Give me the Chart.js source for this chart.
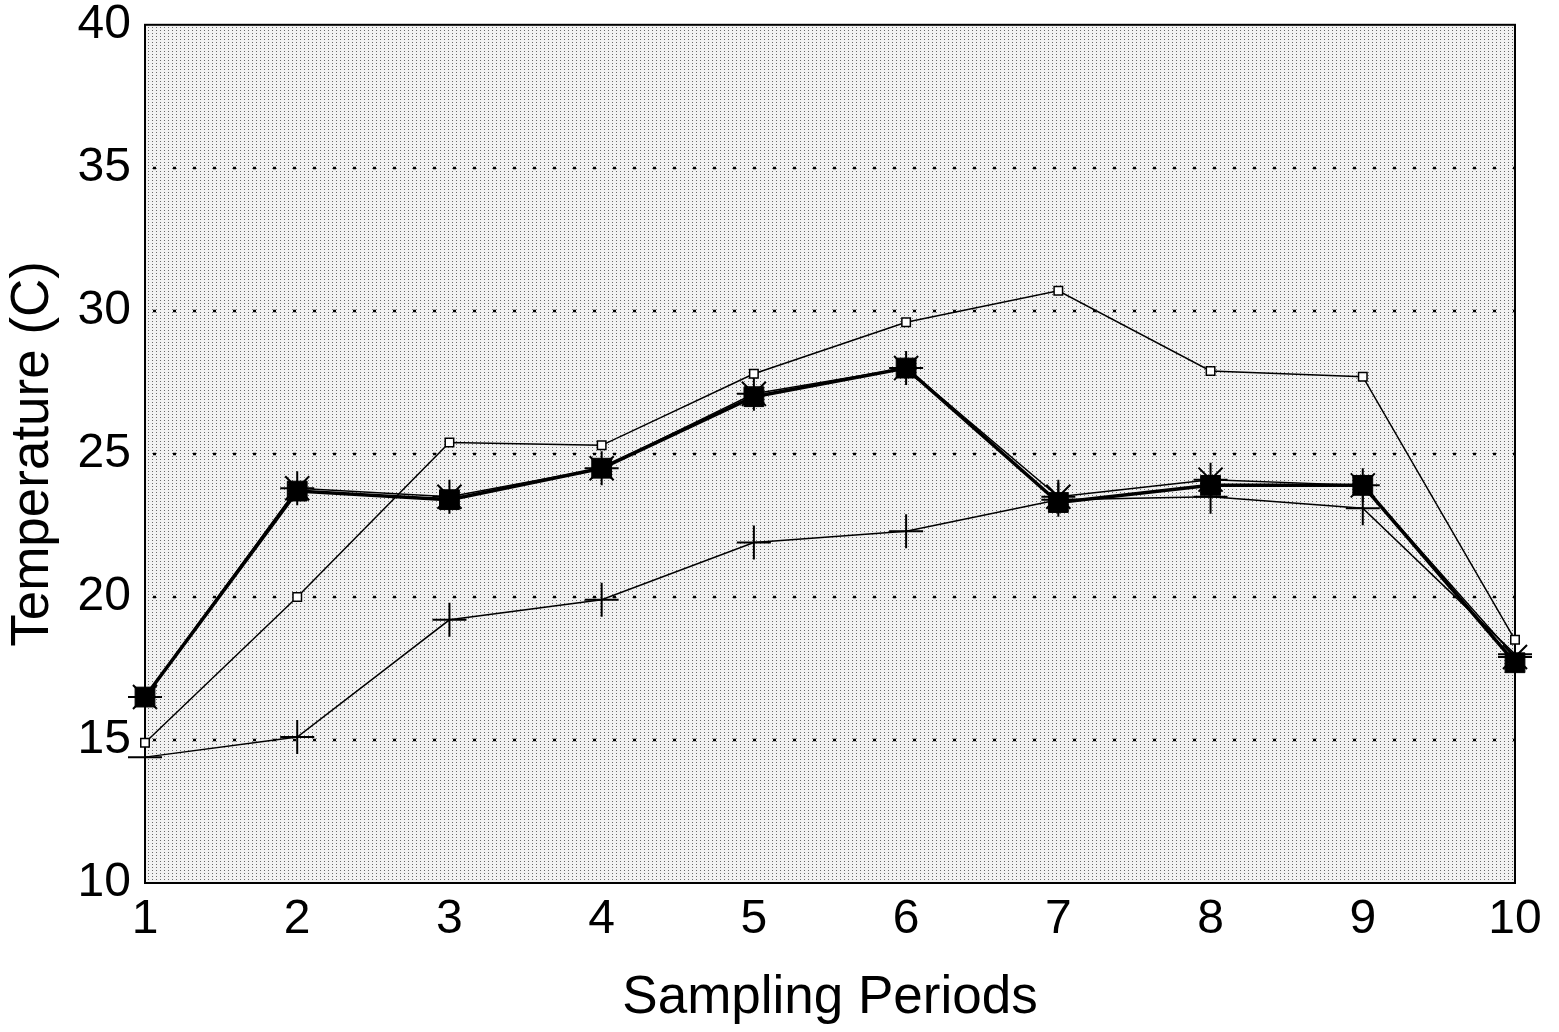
<!DOCTYPE html>
<html>
<head>
<meta charset="utf-8">
<script src="https://cdn.jsdelivr.net/npm/chart.js@4/dist/chart.umd.min.js"></script>
<style>
html,body{margin:0;padding:0;background:#fff;}
#wrap{width:1559px;height:1032px;position:relative;}
</style>
</head>
<body>
<div id="wrap"><canvas id="c" width="1559" height="1032"></canvas></div>
<script>
// ---- data ----
const periods = ['1','2','3','4','5','6','7','8','9','10'];
const openSquares   = [14.9, 20.0, 25.4, 25.3, 27.8, 29.6, 30.7, 27.9, 27.7, 18.5];
const filledSquares = [16.5, 23.7, 23.4, 24.5, 27.0, 28.0, 23.3, 23.9, 23.9, 17.7];
const asterisks     = [16.5, 23.8, 23.5, 24.5, 27.1, 28.0, 23.5, 24.1, 23.9, 17.9];
const crosses       = [14.4, 15.1, 19.2, 19.9, 21.9, 22.3, 23.4, 23.5, 23.1, 18.0];
const yTicks = [10, 15, 20, 25, 30, 35, 40];
const dottedLevels = [15, 20, 25, 30, 35];

// stipple pattern
function makePattern(ctx){
  const p = document.createElement('canvas');
  p.width = 4; p.height = 3;
  const pc = p.getContext('2d');
  pc.fillStyle = '#f2f2f2';
  pc.fillRect(0,0,4,3);
  pc.fillStyle = '#6a6a6a';
  pc.fillRect(0,0,1,1);
  return ctx.createPattern(p,'repeat');
}

const framePlugin = {
  id: 'frame',
  beforeDatasetsDraw(chart){
    const {ctx, chartArea:a, scales} = chart;
    ctx.save();
    ctx.fillStyle = makePattern(ctx);
    ctx.fillRect(a.left, a.top, a.right - a.left, a.bottom - a.top);
    ctx.strokeStyle = '#000';
    ctx.lineWidth = 2.5;
    ctx.setLineDash([3, 17]);
    dottedLevels.forEach(v => {
      const y = Math.round(scales.y.getPixelForValue(v));
      ctx.beginPath();
      ctx.moveTo(a.left + 8, y);
      ctx.lineTo(a.right, y);
      ctx.stroke();
    });
    ctx.setLineDash([]);
    ctx.lineWidth = 2;
    ctx.strokeRect(a.left, a.top, a.right - a.left, a.bottom - a.top);
    ctx.restore();
  }
};

const fontFam = '"Liberation Sans", Arial, sans-serif';

new Chart(document.getElementById('c'), {
  type: 'line',
  data: {
    labels: periods,
    datasets: [
      {
        label: 'Open squares', data: openSquares,
        borderColor: '#000', borderWidth: 1.5, backgroundColor: '#fff',
        pointStyle: 'rect', pointRadius: 6, pointBorderWidth: 1.5,
        pointBackgroundColor: '#fff', pointBorderColor: '#000', clip: false, tension: 0
      },
      {
        label: 'Crosses', data: crosses,
        borderColor: '#000', borderWidth: 1.5,
        pointStyle: 'cross', pointRadius: 17, pointBorderWidth: 2,
        pointBorderColor: '#000', clip: false, tension: 0
      },
      {
        label: 'Asterisks', data: asterisks,
        borderColor: '#000', borderWidth: 1.5,
        pointStyle: 'star', pointRadius: 17, pointBorderWidth: 2,
        pointBorderColor: '#000', clip: false, tension: 0
      },
      {
        label: 'Filled squares', data: filledSquares,
        borderColor: '#000', borderWidth: 3.5,
        pointStyle: 'rect', pointRadius: 14, pointBorderWidth: 1,
        pointBackgroundColor: '#000', pointBorderColor: '#000', clip: false, tension: 0
      }
    ]
  },
  options: {
    responsive: false,
    animation: false,
    devicePixelRatio: 1,
    layout: { padding: { top: 0, right: 44, bottom: 0, left: 0 } },
    plugins: { legend: { display: false }, tooltip: { enabled: false } },
    scales: {
      x: {
        type: 'category',
        offset: false,
        grid: { display: false, drawTicks: false },
        border: { display: false },
        ticks: { color: '#000', font: { family: fontFam, size: 48 }, padding: 8, maxRotation: 0, autoSkip: false },
        title: { display: true, text: 'Sampling Periods', color: '#000', font: { family: fontFam, size: 53 }, padding: { top: 0, bottom: 2 } },
        afterFit(s){ s.height = 149; }
      },
      y: {
        min: 10, max: 40,
        afterBuildTicks(s){ s.ticks = yTicks.map(v => ({ value: v })); },
        grid: { display: false, drawTicks: false },
        border: { display: false },
        ticks: { color: '#000', font: { family: fontFam, size: 48, lineHeight: 0.45 }, padding: 14 },
        title: { display: true, text: 'Temperature (C)', color: '#000', font: { family: fontFam, size: 53 }, padding: { top: 2, bottom: 0 } },
        afterFit(s){ s.width = 145; }
      }
    }
  },
  plugins: [framePlugin]
});
</script>
</body>
</html>
